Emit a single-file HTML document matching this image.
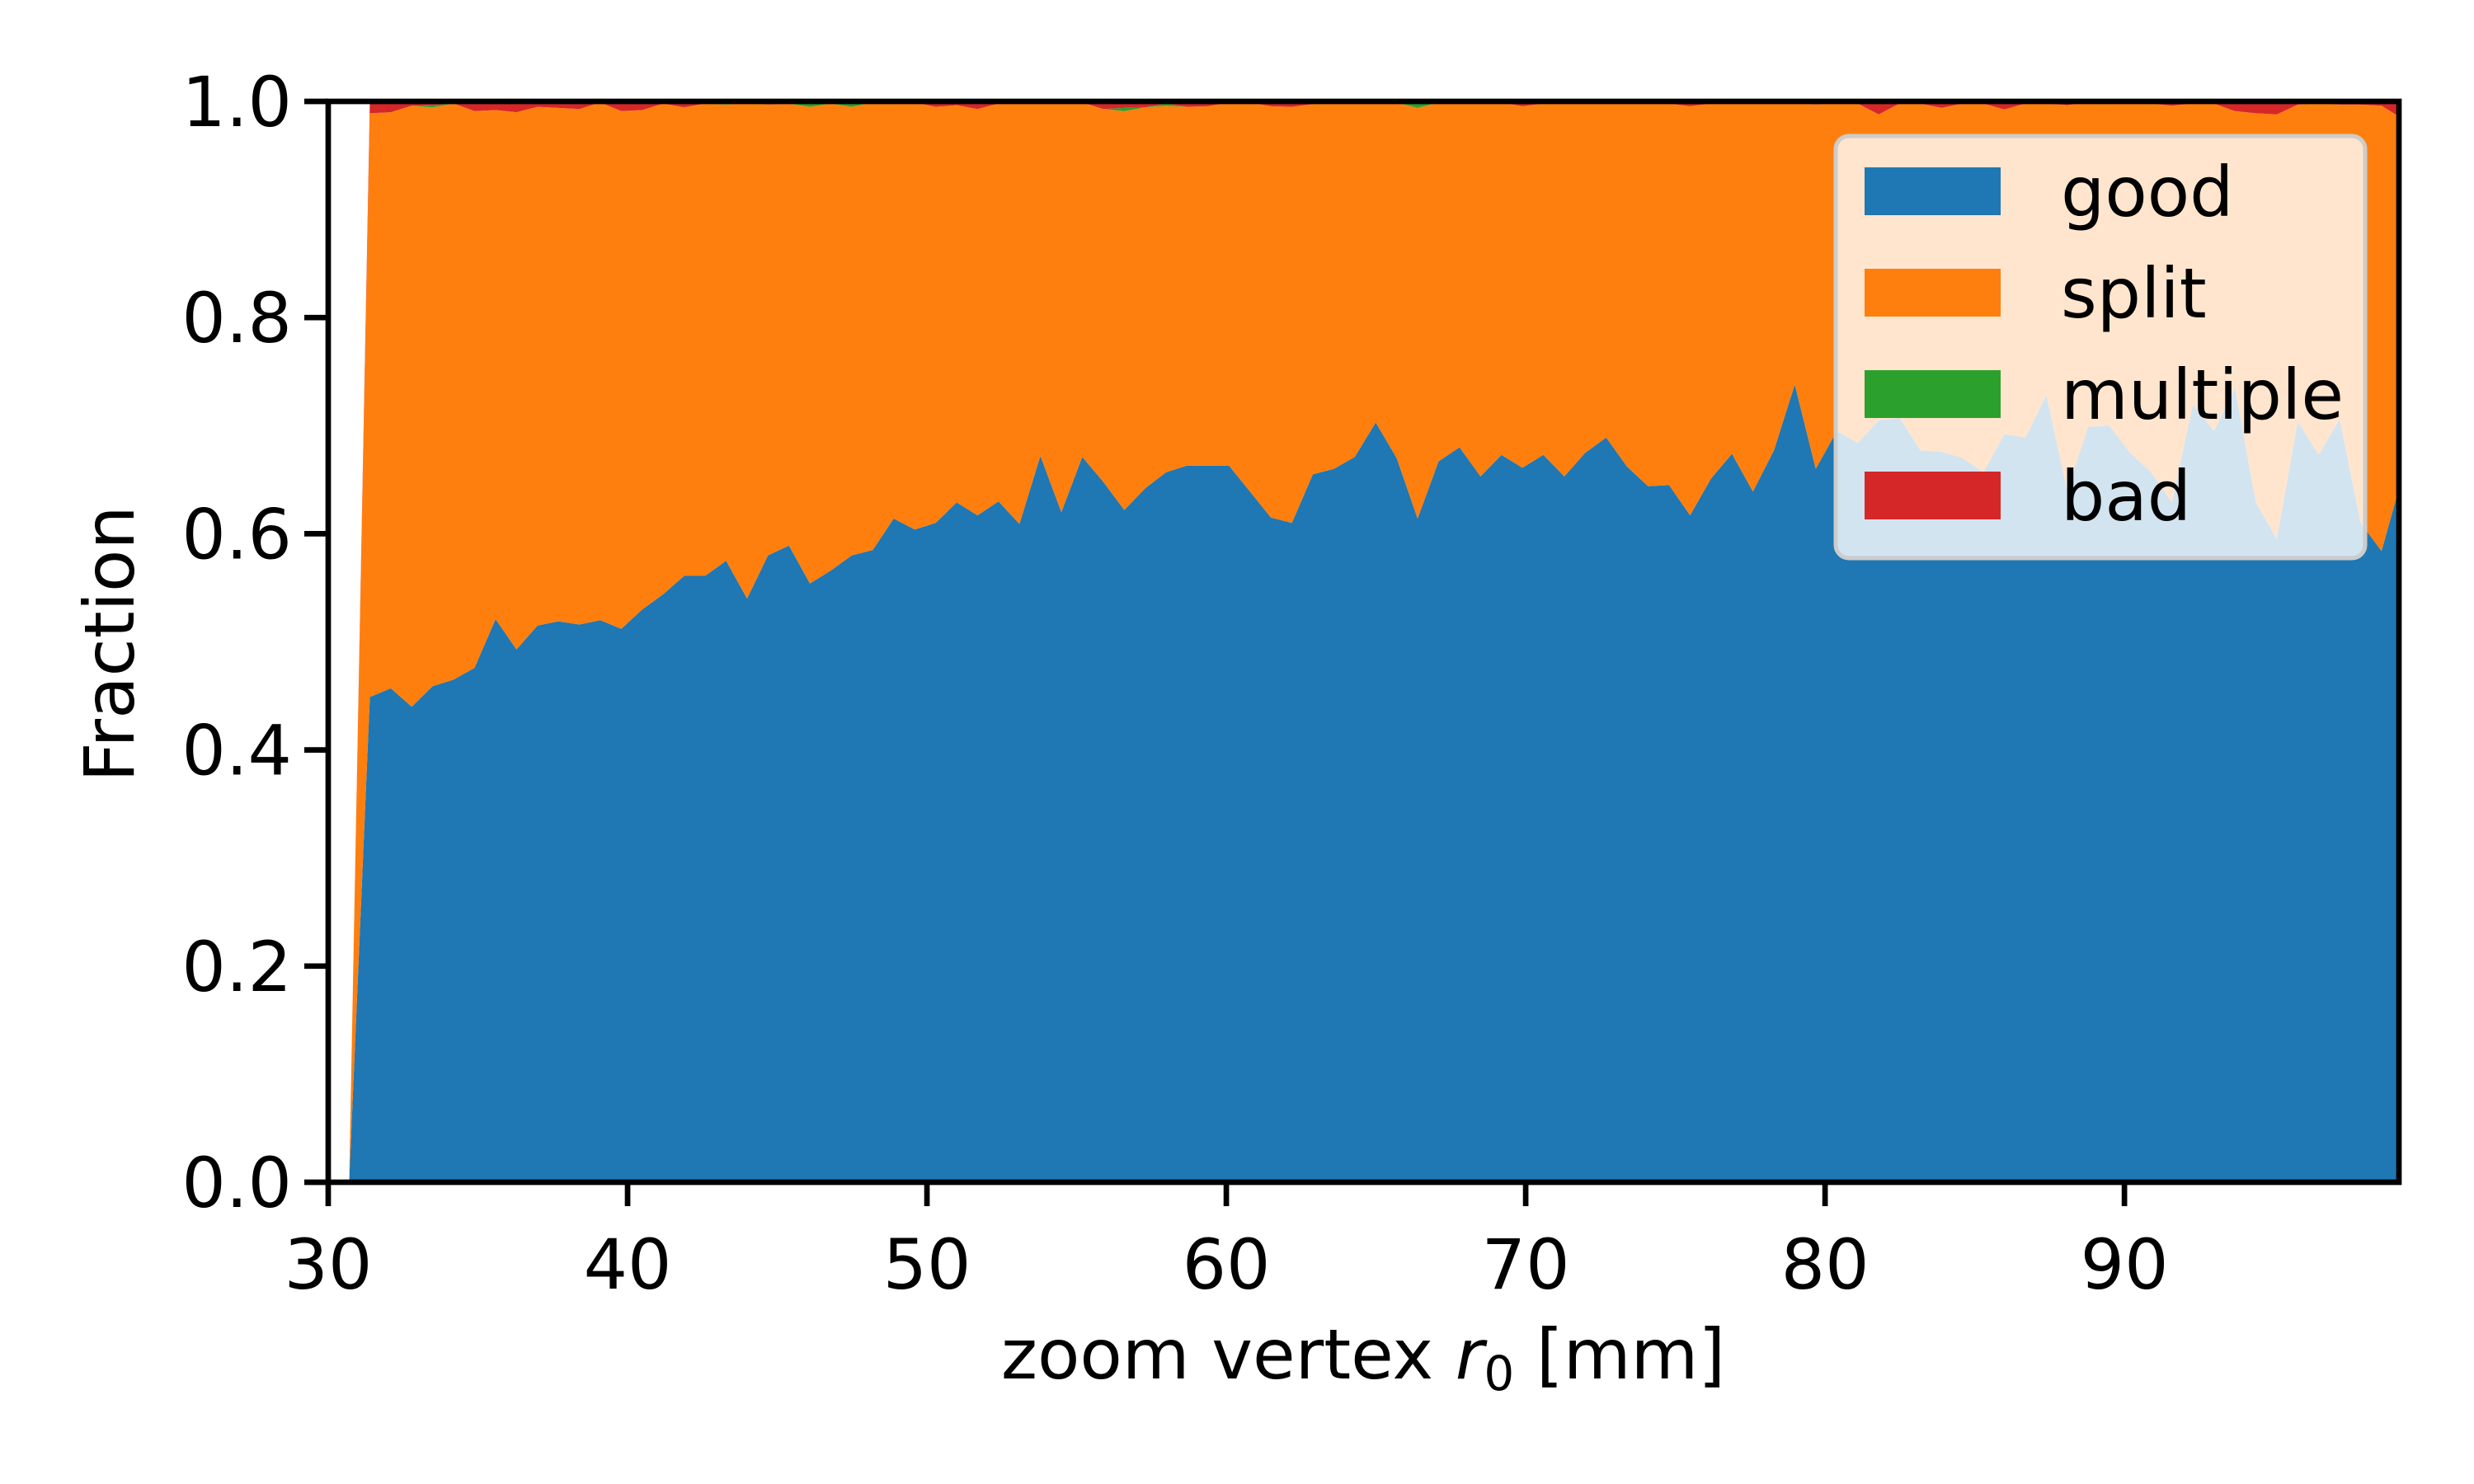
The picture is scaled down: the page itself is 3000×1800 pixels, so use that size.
<!DOCTYPE html>
<html><head><meta charset="utf-8"><style>
html,body{margin:0;padding:0;background:#fff;}
svg{display:block;font-family:"DejaVu Sans","Liberation Sans",sans-serif;}
</style></head><body>
<svg id="chart" width="3000" height="1800" viewBox="0 0 3000 1800" xmlns="http://www.w3.org/2000/svg">
<defs><clipPath id="plotclip"><rect x="398" y="123" width="2511" height="1311"/></clipPath></defs>
<rect width="3000" height="1800" fill="#fff"/>
<g id="areas" clip-path="url(#plotclip)"></g>
<g id="axes"></g>
<text x="139" y="781" font-size="84" text-anchor="middle" transform="rotate(-90 139 781)" dominant-baseline="middle">Fraction</text>
<text x="1653" y="1672" font-size="84" text-anchor="middle">zoom vertex <tspan font-style="italic">r</tspan><tspan font-size="58" dy="14">0</tspan><tspan dy="-14"> [mm]</tspan></text>
<g id="legend">
<rect x="2226" y="165" width="642" height="512" rx="16" fill="#fff" fill-opacity="0.8" stroke="#cccccc" stroke-width="5"/>
</g>
</svg>
<script>
const good=[0,.449,.457,.440,.459,.465,.476,.521,.493,.515,.519,.516,.520,.512,.530,.544,.561,.561,.575,.540,.580,.589,.554,.566,.580,.585,.614,.604,.610,.629,.617,.630,.609,.672,.620,.671,.648,.622,.642,.657,.663,.663,.663,.639,.615,.610,.655,.660,.671,.703,.670,.614,.667,.680,.653,.673,.661,.673,.653,.675,.689,.662,.644,.645,.617,.651,.674,.639,.677,.738,.660,.695,.684,.705,.707,.677,.676,.670,.657,.692,.689,.728,.640,.699,.700,.675,.657,.629,.720,.695,.735,.629,.595,.704,.673,.706,.610,.584,.654];
const split=[0,.540,.533,.556,.5355,.533,.515,.471,.497,.480,.475,.477,.479,.479,.462,.454,.4335,.437,.422,.459,.417,.409,.441,.432,.415,.414,.3835,.395,.385,.3675,.376,.368,.390,.327,.379,.328,.345,.369,.3525,.339,.332,.3325,.336,.360,.3805,.385,.3425,.338,.327,.296,.329,.380,.332,.318,.346,.326,.3345,.325,.346,.324,.309,.337,.355,.353,.3785,.347,.325,.359,.322,.261,.337,.304,.314,.283,.291,.321,.318,.328,.341,.3005,.309,.270,.3565,.300,.2975,.324,.341,.367,.278,.303,.256,.360,.393,.293,.325,.291,.387,.412,.330];
const multiple=[0,0,0,0,.002,0,0,0,0,0,0,0,0,0,0,0,0,0,.002,0,0,0,.003,0,.003,0,0,0,0,0,0,0,0,0,0,0,0,.003,0,.002,0,0,0,0,0,0,0,0,0,0,0,.004,0,0,0,0,0,0,0,0,0,0,0,0,0,0,0,0,0,0,0,0,0,0,0,0,0,0,0,0,0,0,0,0,0,0,0,0,0,0,0,0,0,0,0,0,0,0,0];
const bad=[0,.011,.010,.004,.0035,.002,.009,.008,.010,.005,.006,.007,.001,.009,.008,.002,.0055,.002,.001,.001,.003,.002,.002,.002,.002,.001,.0025,.001,.005,.0035,.007,.002,.001,.001,.001,.001,.007,.006,.0055,.002,.005,.0045,.001,.001,.0045,.005,.0025,.002,.002,.001,.001,.002,.001,.002,.001,.001,.0045,.002,.001,.001,.002,.001,.001,.002,.0045,.002,.001,.002,.001,.001,.003,.001,.002,.012,.002,.002,.006,.002,.002,.0075,.002,.002,.0035,.001,.0025,.001,.002,.004,.002,.002,.009,.011,.012,.003,.002,.003,.003,.004,.016];
const xStart=[30.7];
const xFirst=31.39, xStep=0.7;
const seriesNames=["good","split","multiple","bad"];
const seriesColors=["#1f77b4","#ff7f0e","#2ca02c","#d62728"];
const xTicks=[30,40,50,60,70,80,90];
const yTicks=[0.0,0.2,0.4,0.6,0.8,1.0];

const NS="http://www.w3.org/2000/svg";
const X0=398,X1=2909,Y0=1434,Y1=123,XMIN=30,XMAX=99.17;
const sx=v=>X0+(v-XMIN)/(XMAX-XMIN)*(X1-X0);
const sy=v=>Y0-v*(Y0-Y1);
const xs=xStart.slice();
for(let k=1;k<good.length;k++) xs.push(xFirst+(k-1)*xStep);
function mk(tag,attrs,parent){const e=document.createElementNS(NS,tag);for(const a in attrs)e.setAttribute(a,attrs[a]);parent.appendChild(e);return e;}
const areas=document.getElementById('areas');
const series=[good,split,multiple,bad];
let base=xs.map(()=>0);
series.forEach((s,si)=>{
  const top=base.map((b,i)=>b+s[i]);
  let d="M"+xs.map((x,i)=>sx(x).toFixed(1)+","+sy(top[i]).toFixed(1)).join(" L");
  for(let i=xs.length-1;i>=0;i--) d+=" L"+sx(xs[i]).toFixed(1)+","+sy(base[i]).toFixed(1);
  d+=" Z";
  const p=mk('path',{d:d,fill:seriesColors[si]},areas);
  
  
  base=top;
});
const axes=document.getElementById('axes');
xTicks.forEach(t=>{
  const x=sx(t);
  const l=mk('line',{x1:x,x2:x,y1:Y0,y2:Y0+29,stroke:"#000","stroke-width":6.7},axes);
  
  
  const tx=mk('text',{x:x,y:1563,"font-size":84,"text-anchor":"middle"},axes);
  tx.textContent=String(t);
  
  
});
yTicks.forEach(t=>{
  const y=sy(t);
  const l=mk('line',{x1:X0-29,x2:X0,y1:y,y2:y,stroke:"#000","stroke-width":6.7},axes);
  
  
  const tx=mk('text',{x:X0-44,y:y+30,"font-size":84,"text-anchor":"end"},axes);
  tx.textContent=t.toFixed(1);
  
  
});
const frame=mk('rect',{x:X0,y:Y1,width:X1-X0,height:Y0-Y1,fill:"none",stroke:"#000","stroke-width":6.7},axes);


const legend=document.getElementById('legend');
seriesNames.forEach((n,i)=>{
  const cy=232+i*123;
  const r=mk('rect',{x:2261,y:cy-29,width:165,height:58,fill:seriesColors[i]},legend);
  
  
  const t=mk('text',{x:2499,y:cy+30,"font-size":84},legend);
  t.textContent=n;
  
  
});
</script>
</body></html>
